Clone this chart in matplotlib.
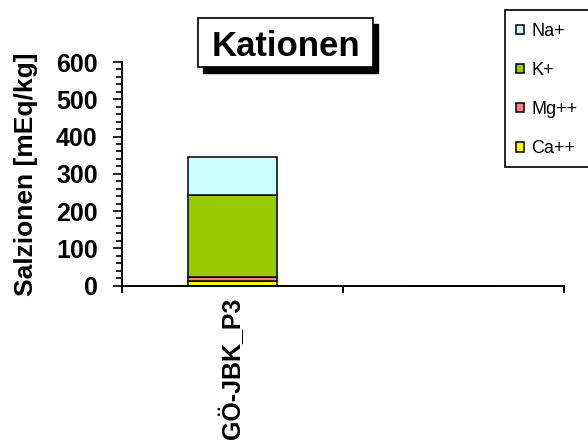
import matplotlib
matplotlib.use("Agg")
import matplotlib.pyplot as plt
from matplotlib.patches import Rectangle, Patch
from matplotlib.ticker import MultipleLocator, FixedLocator, NullFormatter
import numpy as np

# data
samples = ["GÖ-JBK_P3", ""]
ions = ["Ca++", "Mg++", "K+", "Na+"]
ca = [12, 0]
mg = [11, 0]
k = [219, 0]
na = [104, 0]
series = [ca, mg, k, na]
colors = ["#FFFF00", "#FF8080", "#99CC00", "#CCFFFF"]

W, H = 588, 448
DPI = 100
plt.rcParams["font.family"] = ["Liberation Sans", "DejaVu Sans"]

fig = plt.figure(figsize=(W / DPI, H / DPI), dpi=DPI)

def fx(px):
    return px / W

def fy(py):
    return 1 - py / H

# plot area in pixel terms
left, right, top, bottom = 122, 564, 62, 285.5
ax = fig.add_axes([fx(left), fy(bottom), fx(right - left), (bottom - top) / H])

x = np.arange(len(samples))
base = np.zeros(len(samples))
for vals, c, name in zip(series, colors, ions):
    ax.bar(x, vals, width=0.4, bottom=base, color=c, edgecolor="black",
           linewidth=1.1, label=name, zorder=3)
    base = base + np.array(vals)

ax.set_xlim(-0.5, len(samples) - 0.5)
ax.set_ylim(0, 600)

for s in ["top", "right"]:
    ax.spines[s].set_visible(False)
for s in ["left", "bottom"]:
    ax.spines[s].set_linewidth(1.4)
    ax.spines[s].set_zorder(4)

# y axis ticks
ax.yaxis.set_major_locator(MultipleLocator(100))
ax.yaxis.set_minor_locator(MultipleLocator(20))
ax.tick_params(axis="y", which="major", direction="out", length=6.5, width=1.2,
               pad=11, labelsize=18)
ax.tick_params(axis="y", which="minor", direction="out", length=4.5, width=1.2)
for lab in ax.get_yticklabels():
    lab.set_fontweight("bold")

# x axis: tick marks at category boundaries, labels at centres
ax.xaxis.set_major_locator(FixedLocator(np.arange(-0.5, len(samples), 1.0)))
ax.xaxis.set_major_formatter(NullFormatter())
ax.xaxis.set_minor_locator(FixedLocator(x))
ax.set_xticklabels(samples, minor=True, rotation=90, fontsize=18,
                   fontweight="bold")
ax.tick_params(axis="x", which="major", direction="out", length=5, width=1.4)
ax.tick_params(axis="x", which="minor", length=0, pad=9)

ax.set_ylabel("Salzionen [mEq/kg]", fontsize=19, fontweight="bold")
ax.yaxis.set_label_coords((38 - left) / (right - left), 0.5)

# title box with drop shadow
tx0, ty0, tw, th = 198, 18, 175, 49
fig.patches.append(Rectangle((fx(tx0 + 5), fy(ty0 + th + 6)), fx(tw), th / H,
                             transform=fig.transFigure, facecolor="black",
                             edgecolor="black", zorder=5))
fig.patches.append(Rectangle((fx(tx0), fy(ty0 + th)), fx(tw), th / H,
                             transform=fig.transFigure, facecolor="white",
                             edgecolor="black", linewidth=1.2, zorder=6))
fig.text(fx(tx0 + tw / 2), fy(55.5), "Kationen", fontsize=25, fontweight="bold",
         ha="center", va="baseline", zorder=7)

# legend frame and entries (stack order from top)
fig.patches.append(Rectangle((fx(505), fy(167)), fx(100), 157 / H,
                             transform=fig.transFigure, facecolor="white",
                             edgecolor="black", linewidth=1.2, zorder=5))
handles = [Patch(facecolor=c, edgecolor="black", linewidth=1.1)
           for c in colors[::-1]]
leg = fig.legend(handles, ions[::-1], loc="upper left",
                 bbox_to_anchor=(fx(516), fy(23)), bbox_transform=fig.transFigure,
                 frameon=False, fontsize=13, borderpad=0, borderaxespad=0,
                 labelspacing=1.22, handlelength=0.45, handleheight=0.45,
                 handletextpad=0.4)
leg.set_zorder(8)

fig.savefig("out.png", dpi=DPI)
